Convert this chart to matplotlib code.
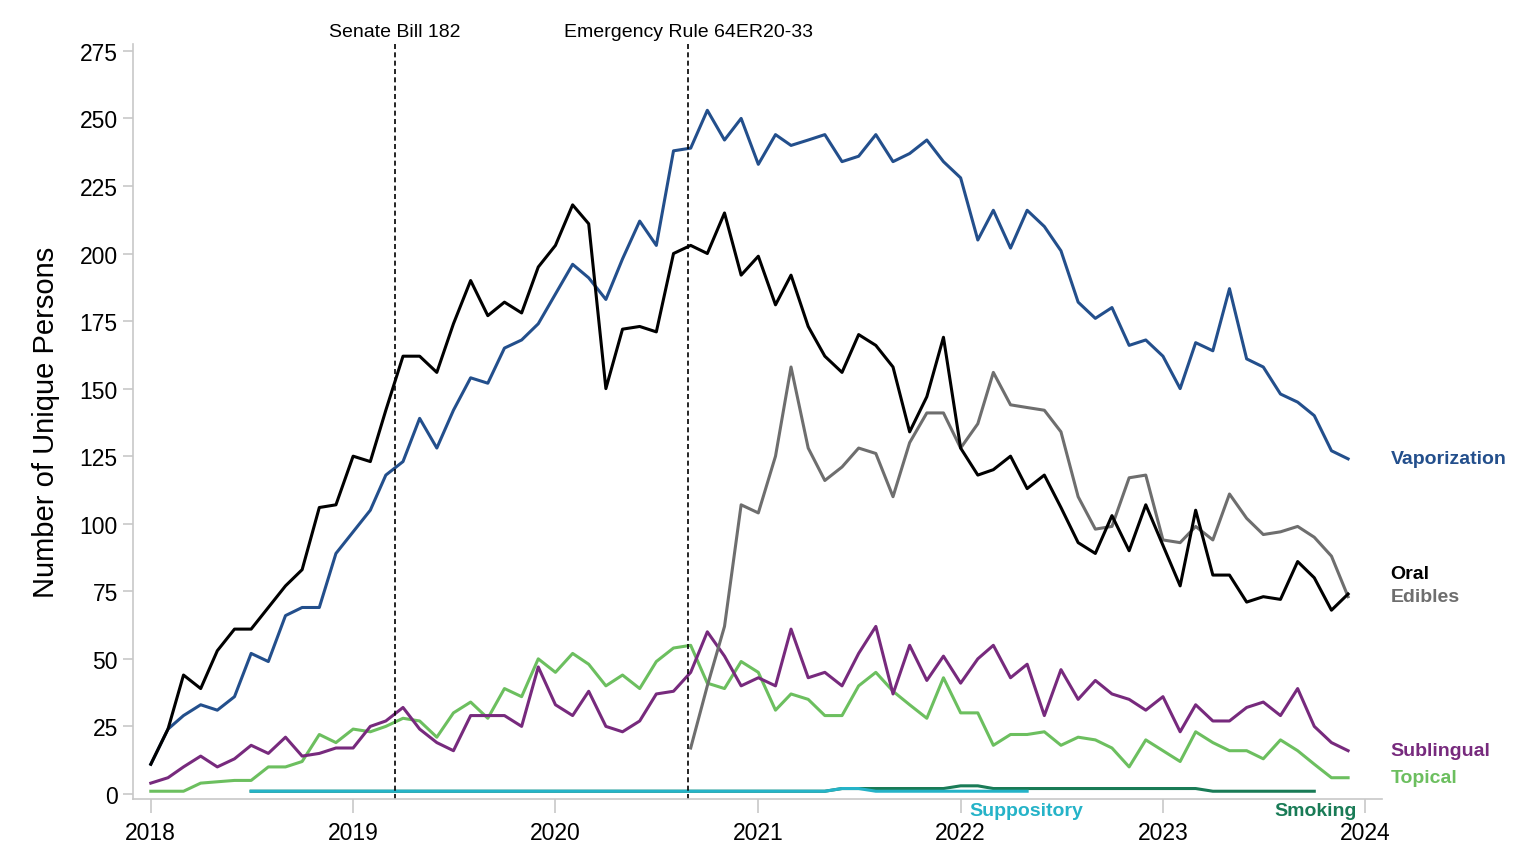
import numpy as np
import matplotlib
matplotlib.use('Agg')
import matplotlib.pyplot as plt
import pandas as pd

# monthly counts, Jan 2018 - Dec 2023
months = pd.date_range('2018-01-01', periods=72, freq='MS')

vaporization = [11, 24, 29, 33, 31, 36, 52, 49, 66, 69, 69, 89,
                97, 105, 118, 123, 139, 128, 142, 154, 152, 165, 168, 174,
                185, 196, 191, 183, 198, 212, 203, 238, 239, 253, 242, 250,
                233, 244, 240, 242, 244, 234, 236, 244, 234, 237, 242, 234,
                228, 205, 216, 202, 216, 210, 201, 182, 176, 180, 166, 168,
                162, 150, 167, 164, 187, 161, 158, 148, 145, 140, 127, 124]
oral = [11, 24, 44, 39, 53, 61, 61, 69, 77, 83, 106, 107,
        125, 123, 142, 162, 162, 156, 174, 190, 177, 182, 178, 195,
        203, 218, 211, 150, 172, 173, 171, 200, 203, 200, 215, 192,
        199, 181, 192, 173, 162, 156, 170, 166, 158, 134, 147, 169,
        128, 118, 120, 125, 113, 118, 106, 93, 89, 103, 90, 107,
        92, 77, 105, 81, 81, 71, 73, 72, 86, 80, 68, 74]
# edibles start Sep 2020
edibles_start = 32
edibles = [17, 40, 62, 107,
           104, 125, 158, 128, 116, 121, 128, 126, 110, 130, 141, 141,
           128, 137, 156, 144, 143, 142, 134, 110, 98, 99, 117, 118,
           94, 93, 99, 94, 111, 102, 96, 97, 99, 95, 88, 73]
sublingual = [4, 6, 10, 14, 10, 13, 18, 15, 21, 14, 15, 17,
              17, 25, 27, 32, 24, 19, 16, 29, 29, 29, 25, 47,
              33, 29, 38, 25, 23, 27, 37, 38, 45, 60, 51, 40,
              43, 40, 61, 43, 45, 40, 52, 62, 37, 55, 42, 51,
              41, 50, 55, 43, 48, 29, 46, 35, 42, 37, 35, 31,
              36, 23, 33, 27, 27, 32, 34, 29, 39, 25, 19, 16]
topical = [1, 1, 1, 4, 4.5, 5, 5, 10, 10, 12, 22, 19,
           24, 23, 25, 28, 27, 21, 30, 34, 28, 39, 36, 50,
           45, 52, 48, 40, 44, 39, 49, 54, 55, 41, 39, 49,
           45, 31, 37, 35, 29, 29, 40, 45, 38, 33, 28, 43,
           30, 30, 18, 22, 22, 23, 18, 21, 20, 17, 10, 20,
           16, 12, 23, 19, 16, 16, 13, 20, 16, 11, 6, 6]
# suppository Jul 2018 - May 2022, smoking Jul 2018 - Oct 2023
suppository_start = 6
suppository = [1] * 6 + [1] * 12 + [1] * 12 + [1, 1, 1, 1, 1, 2, 2, 1, 1, 1, 1, 1] + [1, 1, 1, 1, 1]
smoking_start = 6
smoking = ([1] * 6 + [1] * 12 + [1] * 12 +
           [1, 1, 1, 1, 1, 2, 2, 2, 2, 2, 2, 2] +
           [3, 3, 2, 2, 2, 2, 2, 2, 2, 2, 2, 2] +
           [2, 2, 2, 1, 1, 1, 1, 1, 1, 1])

events = ['Senate Bill 182', 'Emergency Rule 64ER20-33']
event_dates = pd.to_datetime(['2019-03-18', '2020-08-28'])

c_vap = '#234f8c'
c_oral = '#000000'
c_edib = '#6e6e6e'
c_subl = '#772a7d'
c_top = '#6cbf5f'
c_supp = '#25b3c8'
c_smok = '#197b56'

plt.rcParams['font.family'] = ['Liberation Sans', 'DejaVu Sans']

fig = plt.figure(figsize=(15.33, 8.62), dpi=100)
ax = fig.add_axes([0.0868, 0.072, 0.815, 0.876])

lw = 2.2
ax.plot(months[smoking_start:smoking_start + len(smoking)], smoking, color=c_smok, lw=lw)
ax.plot(months[suppository_start:suppository_start + len(suppository)], suppository, color=c_supp, lw=lw)
ax.plot(months, topical, color=c_top, lw=lw)
ax.plot(months, sublingual, color=c_subl, lw=lw)
ax.plot(months[edibles_start:], edibles, color=c_edib, lw=lw)
ax.plot(months, vaporization, color=c_vap, lw=lw)
ax.plot(months, oral, color=c_oral, lw=lw)

for name, d in zip(events, event_dates):
    ax.axvline(d, color='black', lw=1.2, ls=(0, (3, 2)))
    ax.text(d, 279, name, ha='center', va='bottom', fontsize=14)

ax.set_ylim(-1.85, 277.6)
ax.set_xlim(pd.Timestamp('2017-11-30'), pd.Timestamp('2024-02-01'))
ax.set_yticks(np.arange(0, 276, 25))
years = pd.date_range('2018-01-01', periods=7, freq='YS')
ax.set_xticks(years)
ax.set_xticklabels([str(y.year) for y in years])

for s in ['top', 'right']:
    ax.spines[s].set_visible(False)
for s in ['left', 'bottom']:
    ax.spines[s].set_color('#c8c8c8')
    ax.spines[s].set_linewidth(1.2)
ax.tick_params(axis='y', colors='#c8c8c8', labelcolor='black', labelsize=16.5, length=7, width=1.2, pad=4)
ax.tick_params(axis='x', colors='#c8c8c8', labelcolor='black', labelsize=16.5, length=10, width=1.2, pad=6)
ax.set_ylabel('Number of Unique Persons', fontsize=21, labelpad=14)

trans = ax.get_yaxis_transform()
right_labels = [('Vaporization', 124, c_vap), ('Oral', 81.4, c_oral), ('Edibles', 72.9, c_edib),
                ('Sublingual', 15.9, c_subl), ('Topical', 5.9, c_top)]
for txt, yv, col in right_labels:
    ax.text(1.0065, yv, txt, transform=trans, color=col, fontsize=14, fontweight='bold',
            ha='left', va='center', clip_on=False)

ax.text(pd.Timestamp('2022-01-17'), -6.3, 'Suppository', color=c_supp, fontsize=14,
        fontweight='bold', ha='left', va='center', clip_on=False)
ax.text(pd.Timestamp('2023-12-17'), -6.3, 'Smoking', color=c_smok, fontsize=14,
        fontweight='bold', ha='right', va='center', clip_on=False)

fig.savefig('out.png', dpi=100)
